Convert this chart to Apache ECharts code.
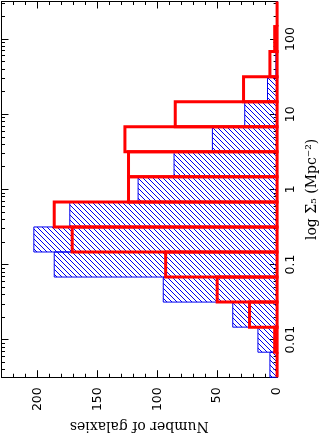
<!DOCTYPE html>
<html>
<head>
<meta charset="utf-8">
<script src="https://cdn.jsdelivr.net/npm/echarts@6/dist/echarts.min.js"></script>
<style>
html,body{margin:0;padding:0;background:#fff;}
#c{width:327px;height:438px;}
</style>
</head>
<body>
<div id="c"></div>
<script>
// log10(Sigma_5) bin edges (1/3 dex bins)
var binEdges = [-2.5, -2.1667, -1.8333, -1.5, -1.1667, -0.8333, -0.5, -0.1667, 0.1667, 0.5, 0.8333, 1.1667, 1.5, 1.8333, 2.1667, 2.5];
// counts per bin, from lowest to highest density
var blueCounts = [6, 16, 37, 95, 186, 203, 173, 116, 86, 54, 27, 8, 1, 1, 0];
var redCounts  = [0, 2, 23, 50, 93, 171, 186, 124, 124, 127, 85, 28, 6, 2, 0];
// axis ticks
var countTicks = [0, 50, 100, 150, 200];
var countMinorTicks = [10, 20, 30, 40, 60, 70, 80, 90, 110, 120, 130, 140, 160, 170, 180, 190, 210, 220];
var logTickPos = [-2, -1, 0, 1, 2];
var logTickLabels = ['0.01', '0.1', '1', '10', '100'];
var logMinorMult = [2, 3, 4, 5, 6, 7, 8, 9];
var logDecades = [-3, -2, -1, 0, 1, 2];

var logMinorTicks = [];
logDecades.forEach(function (d) {
  logMinorMult.forEach(function (m) {
    var v = d + Math.log10(m);
    if (v > -2.5 && v < 2.5) logMinorTicks.push(v);
  });
});

function makeData(counts) {
  return counts.map(function (c, i) { return [binEdges[i], binEdges[i + 1], c]; });
}

var hatch = document.createElement('canvas');
hatch.width = 5; hatch.height = 5;
(function () {
  var g = hatch.getContext('2d');
  g.strokeStyle = '#0000f0';
  g.lineWidth = 1;
  g.beginPath();
  g.moveTo(-1, -1); g.lineTo(6, 6);
  g.moveTo(-1, 4); g.lineTo(1, 6);
  g.moveTo(4, -1); g.lineTo(6, 1);
  g.stroke();
})();

var FR = '#000';
var tickFont = 'DejaVu Sans';
var nameFont = 'DejaVu Serif';

function xAx(pos, ticks, len, showLine, labels, extra) {
  var a = {
    type: 'value', gridIndex: 0, position: pos, inverse: true, min: 0, max: 230,
    axisLine: { show: showLine, onZero: false, lineStyle: { color: FR, width: 1 } },
    axisTick: { show: true, inside: true, length: len, customValues: ticks, lineStyle: { color: FR, width: 1 } },
    axisLabel: labels ? labels : { show: false },
    splitLine: { show: false }
  };
  if (extra) for (var k in extra) a[k] = extra[k];
  return a;
}
function yAx(pos, ticks, len, showLine, labels, extra) {
  var a = {
    type: 'value', gridIndex: 0, position: pos, min: -2.5, max: 2.5,
    axisLine: { show: showLine, onZero: false, lineStyle: { color: FR, width: 1 } },
    axisTick: { show: true, inside: true, length: len, customValues: ticks, lineStyle: { color: FR, width: 1 } },
    axisLabel: labels ? labels : { show: false },
    splitLine: { show: false }
  };
  if (extra) for (var k in extra) a[k] = extra[k];
  return a;
}

var chart = echarts.init(document.getElementById('c'), null, { renderer: 'canvas' });
chart.setOption({
  animation: false,
  backgroundColor: '#fff',
  grid: { left: 1.5, right: 42.5, top: 1.5, bottom: 53.5, containLabel: false },
  xAxis: [
    xAx('bottom', countTicks, 7, true, {
      show: true, customValues: countTicks, rotate: 90, margin: 10,
      fontFamily: tickFont, fontSize: 12.5, color: '#000',
      formatter: function (v) { return String(v); }
    }, {
      name: 'Number of galaxies', nameLocation: 'middle', nameRotate: 180, nameGap: 39,
      nameTextStyle: { fontFamily: nameFont, fontSize: 14, color: '#000' }
    }),
    xAx('bottom', countMinorTicks, 3.5, false, null),
    xAx('top', countTicks, 7, true, null),
    xAx('top', countMinorTicks, 3.5, false, null)
  ],
  yAxis: [
    yAx('right', logTickPos, 7, true, {
      show: true, customValues: logTickPos, rotate: 90, margin: 7,
      fontFamily: tickFont, fontSize: 12.5, color: '#000',
      formatter: function (v) {
        var i = logTickPos.indexOf(Math.round(v));
        return i >= 0 ? logTickLabels[i] : '';
      }
    }, {
      name: 'log \u03A3\u2085 (Mpc\u207B\u00B2)', nameLocation: 'middle', nameRotate: 90, nameGap: 21,
      nameTextStyle: { fontFamily: nameFont, fontSize: 14, color: '#000' }
    }),
    yAx('right', logMinorTicks, 3.5, false, null),
    yAx('left', logTickPos, 7, true, null),
    yAx('left', logMinorTicks, 3.5, false, null)
  ],
  series: [
    {
      type: 'custom', xAxisIndex: 0, yAxisIndex: 0, z: 2,
      data: makeData(blueCounts),
      renderItem: function (params, api) {
        var lo = api.coord([0, api.value(0)]);
        var hi = api.coord([api.value(2), api.value(1)]);
        var x = Math.min(lo[0], hi[0]), y = Math.min(lo[1], hi[1]);
        return {
          type: 'rect',
          shape: { x: x, y: y, width: Math.abs(lo[0] - hi[0]), height: Math.abs(lo[1] - hi[1]) },
          style: { fill: { image: hatch, repeat: 'repeat' }, stroke: '#0000f0', lineWidth: 1 }
        };
      }
    },
    {
      type: 'custom', xAxisIndex: 0, yAxisIndex: 0, z: 3,
      data: makeData(redCounts),
      renderItem: function (params, api) {
        var lo = api.coord([0, api.value(0)]);
        var hi = api.coord([api.value(2), api.value(1)]);
        var x = Math.min(lo[0], hi[0]), y = Math.min(lo[1], hi[1]);
        return {
          type: 'rect',
          shape: { x: x, y: y, width: Math.abs(lo[0] - hi[0]), height: Math.abs(lo[1] - hi[1]) },
          style: { fill: 'none', stroke: '#ff0000', lineWidth: 3 }
        };
      }
    }
  ]
});
</script>
</body>
</html>
